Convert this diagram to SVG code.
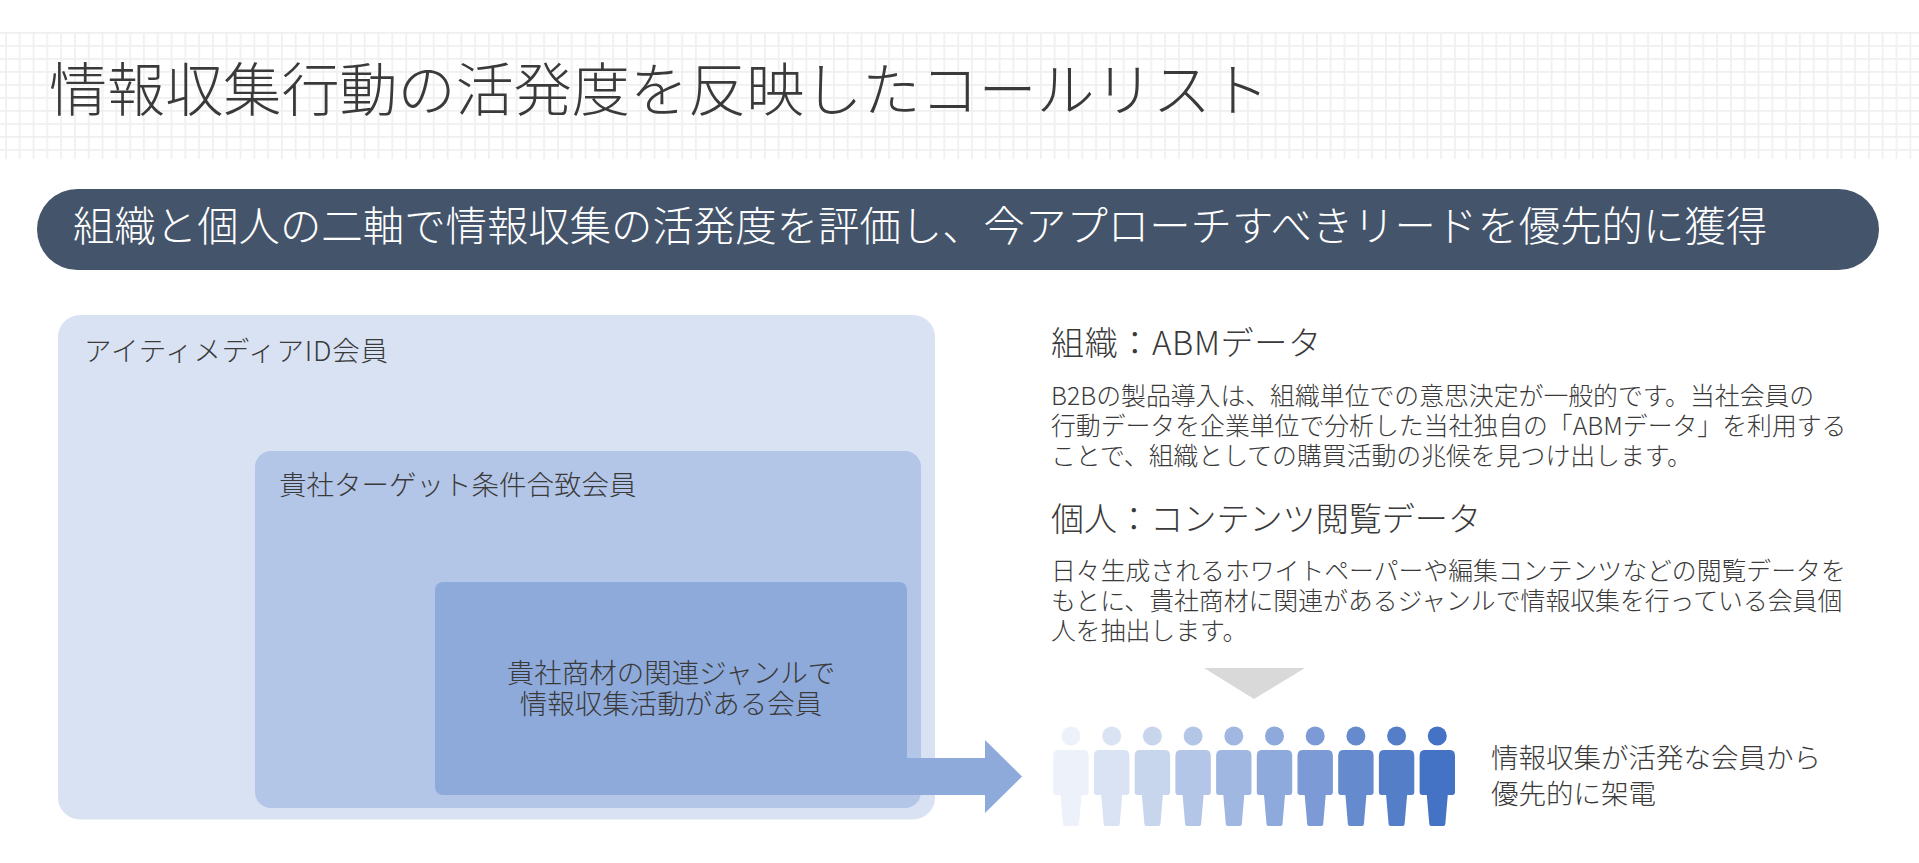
<svg xmlns="http://www.w3.org/2000/svg" width="1919" height="863" viewBox="0 0 1919 863">
<style>
text{font-family:"Noto Sans CJK JP","Noto Sans",sans-serif;fill:#3a3a3a;font-weight:300}
.h{font-size:33.1px}.b{font-size:24.85px}.box{font-size:27.5px}
</style>
<defs>
<pattern id="grid" width="13.8" height="13" patternUnits="userSpaceOnUse" x="5" y="32">
<rect width="13.8" height="13" fill="#fff"/>
<path d="M0 0H13.8M0 0V13" stroke="#eff0f2" stroke-width="3.500" fill="none"/>
</pattern>
<g id="person">
<circle cx="0" cy="736" r="9.5"/>
<path d="M-13 750H13Q17.7 750 17.7 756V792Q17.7 795 15 795H10.5L8 824Q8 826 6 826H-6Q-8 826 -8 824L-10.5 795H-15Q-17.7 795 -17.7 792V756Q-17.7 750 -13 750Z"/>
</g>
</defs>
<rect width="1919" height="863" fill="#fff"/>
<g id="title"><rect x="0" y="32" width="1919" height="127" fill="url(#grid)"/>
<text x="49" y="111" font-size="58.1">情報収集行動の活発度を反映したコールリスト</text></g>
<g id="banner"><rect x="37" y="189" width="1842" height="81" rx="40.5" fill="#44546a"/>
<text x="73" y="241" font-size="41.4" style="fill:#fff">組織と個人の二軸で情報収集の活発度を評価し、今アプローチすべきリードを優先的に獲得</text></g>
<g id="outer"><rect x="58" y="315" width="877" height="504.500" rx="22" fill="#d9e2f3"/>
<text x="84" y="361" class="box" textLength="304" lengthAdjust="spacing">アイティメディアID会員</text></g>
<g id="middle"><rect x="255" y="451" width="666" height="357" rx="16" fill="#b4c6e7"/>
<text x="279" y="495" class="box">貴社ターゲット条件合致会員</text></g>
<g id="connectors"><path d="M900 758H985V740L1022 776.500L985 813V795H900Z" fill="#8eaadb"/></g>
<g id="inner"><rect x="435" y="582" width="472" height="213" rx="8" fill="#8eaadb"/>
<text x="671" y="683" class="box" text-anchor="middle">貴社商材の関連ジャンルで</text>
<text x="671" y="714" class="box" text-anchor="middle">情報収集活動がある会員</text></g>
<g id="desc-org">
<text x="1051" y="355" class="h" textLength="270" lengthAdjust="spacing">組織：ABMデータ</text>
<text x="1051" y="405" class="b">B2Bの製品導入は、組織単位での意思決定が一般的です。当社会員の</text>
<text x="1051" y="435" class="b">行動データを企業単位で分析した当社独自の「ABMデータ」を利用する</text>
<text x="1051" y="465" class="b">ことで、組織としての購買活動の兆候を見つけ出します。</text></g>
<g id="desc-person">
<text x="1051" y="531" class="h">個人：コンテンツ閲覧データ</text>
<text x="1051" y="580" class="b">日々生成されるホワイトペーパーや編集コンテンツなどの閲覧データを</text>
<text x="1051" y="610" class="b">もとに、貴社商材に関連があるジャンルで情報収集を行っている会員個</text>
<text x="1051" y="640" class="b">人を抽出します。</text></g>
<g id="down-arrow"><polygon points="1204,668 1305,668 1254,699" fill="#d9d9d9"/></g>
<g id="people">
<use href="#person" x="1071" fill="#edf1f9"/>
<use href="#person" x="1111.700" fill="#dae3f3"/>
<use href="#person" x="1152.400" fill="#c7d5ed"/>
<use href="#person" x="1193.100" fill="#b4c6e7"/>
<use href="#person" x="1233.800" fill="#a0b7e1"/>
<use href="#person" x="1274.500" fill="#8ea9db"/>
<use href="#person" x="1315.200" fill="#7c9ad5"/>
<use href="#person" x="1355.900" fill="#658acd"/>
<use href="#person" x="1396.600" fill="#547ec8"/>
<use href="#person" x="1437.300" fill="#4472c4"/>
</g>
<g id="people-label">
<text x="1491" y="768" class="box">情報収集が活発な会員から</text>
<text x="1491" y="804" class="box">優先的に架電</text></g>
</svg>
